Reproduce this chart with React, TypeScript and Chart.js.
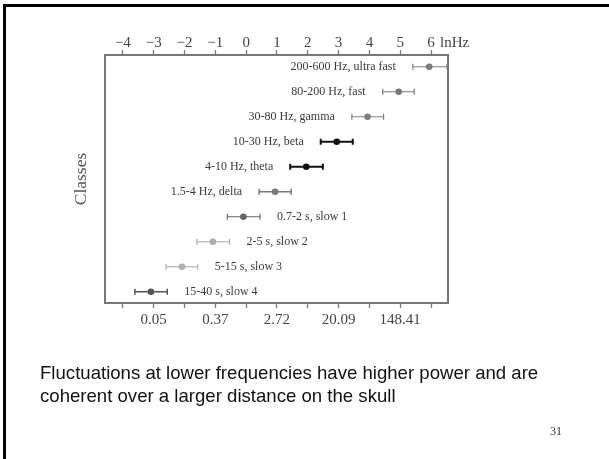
import React, { useEffect, useRef } from "react";
import { Chart, registerables } from "chart.js";

Chart.register(...registerables);

// Frequency classes, top to bottom
const classLabels = [
  "200-600 Hz, ultra fast",
  "80-200 Hz, fast",
  "30-80 Hz, gamma",
  "10-30 Hz, beta",
  "4-10 Hz, theta",
  "1.5-4 Hz, delta",
  "0.7-2 s, slow 1",
  "2-5 s, slow 2",
  "5-15 s, slow 3",
  "15-40 s, slow 4",
];
// Centre frequency and band limits, in ln(Hz)
const centers = [5.94, 4.95, 3.94, 2.94, 1.95, 0.94, -0.09, -1.08, -2.08, -3.09];
const lows = [5.41, 4.43, 3.43, 2.42, 1.43, 0.42, -0.61, -1.6, -2.6, -3.61];
const highs = [6.52, 5.45, 4.46, 3.46, 2.49, 1.46, 0.45, -0.54, -1.57, -2.56];
// Which side of the marker the class name sits on
const labelSide = ["left", "left", "left", "left", "left", "left", "right", "right", "right", "right"];
const markColors = ["#7c7c7c", "#777777", "#7e7e7e", "#111111", "#111111", "#787878", "#666666", "#ababab", "#b2b2b2", "#555555"];
const barWidths = [1.2, 1.2, 1.2, 2, 2, 1.5, 1.2, 1.2, 1.2, 1.5];

// Axis ticks (ln Hz); bottom axis shows e^x on odd ticks
const lnTicks = [-4, -3, -2, -1, 0, 1, 2, 3, 4, 5, 6];
const xMin = -4.58;
const xMax = 6.55;

const SERIF = "'Liberation Serif', 'Times New Roman', serif";

const classLabelPlugin = {
  id: "classLabels",
  afterDatasetsDraw(chart: any) {
    const ctx = chart.ctx;
    const xs = chart.scales.x;
    const ys = chart.scales.y;
    ctx.save();
    ctx.font = `12px ${SERIF}`;
    ctx.fillStyle = "#3a3a3a";
    ctx.textBaseline = "middle";
    classLabels.forEach((name, i) => {
      const y = ys.getPixelForValue(i + 1);
      if (labelSide[i] === "left") {
        ctx.textAlign = "right";
        ctx.fillText(name, xs.getPixelForValue(lows[i]) - 17, y);
      } else {
        ctx.textAlign = "left";
        ctx.fillText(name, xs.getPixelForValue(highs[i]) + 17, y);
      }
    });
    // unit next to the top axis
    const top = chart.scales.xTop;
    ctx.font = `15px ${SERIF}`;
    ctx.fillStyle = "#444";
    ctx.textAlign = "left";
    ctx.fillText("lnHz", top.getPixelForValue(6) + 9, 43);
    ctx.restore();
  },
};

export default function App() {
  const ref = useRef<HTMLCanvasElement>(null);

  useEffect(() => {
    const canvas = ref.current;
    if (!canvas) return;

    const errorSets = classLabels.map((_, i) => ({
      type: "scatter" as const,
      data: [
        { x: lows[i], y: i + 1 },
        { x: highs[i], y: i + 1 },
      ],
      showLine: true,
      borderColor: markColors[i],
      borderWidth: barWidths[i],
      pointStyle: "line" as const,
      rotation: 90,
      pointRadius: 3,
      pointBorderColor: markColors[i],
      pointBorderWidth: barWidths[i],
      pointBackgroundColor: markColors[i],
    }));

    const pointSet = {
      type: "scatter" as const,
      data: centers.map((c, i) => ({ x: c, y: i + 1 })),
      pointRadius: 3.3,
      pointBackgroundColor: markColors,
      pointBorderColor: markColors,
      pointBorderWidth: 0,
    };

    const axisColor = "#777777";
    const chart = new Chart(canvas, {
      type: "scatter",
      data: { datasets: [...errorSets, pointSet] as any },
      options: {
        animation: false,
        responsive: false,
        events: [],
        layout: { padding: { left: 71, right: 161, top: 0, bottom: 0 } },
        plugins: { legend: { display: false }, tooltip: { enabled: false } },
        scales: {
          x: {
            type: "linear",
            position: "bottom",
            min: xMin,
            max: xMax,
            afterBuildTicks: (s: any) => {
              s.ticks = lnTicks.map((v) => ({ value: v }));
            },
            afterFit: (s: any) => {
              s.height = 156;
            },
            ticks: {
              autoSkip: false,
              maxRotation: 0,
              padding: 3,
              color: "#444",
              font: { family: SERIF, size: 15 },
              callback: (v: any) => (Math.abs(v) % 2 === 1 ? Math.exp(v).toFixed(2) : ""),
            },
            grid: { drawOnChartArea: false, drawTicks: true, tickLength: 5, tickColor: axisColor, tickWidth: 1.3 },
            border: { display: true, color: axisColor, width: 2 },
          },
          xTop: {
            type: "linear",
            position: "top",
            min: xMin,
            max: xMax,
            afterBuildTicks: (s: any) => {
              s.ticks = lnTicks.map((v) => ({ value: v }));
            },
            afterFit: (s: any) => {
              s.height = 55;
            },
            ticks: {
              autoSkip: false,
              maxRotation: 0,
              padding: -2,
              color: "#444",
              font: { family: SERIF, size: 15 },
              callback: (v: any) => (v < 0 ? "\u2212" + Math.abs(v) : String(v)),
            },
            grid: { drawOnChartArea: false, drawTicks: true, tickLength: 5, tickColor: axisColor, tickWidth: 1.3 },
            border: { display: true, color: axisColor, width: 2 },
          },
          y: {
            type: "linear",
            position: "left",
            reverse: true,
            min: 0.53,
            max: 10.45,
            afterFit: (s: any) => {
              s.width = 34;
            },
            ticks: { display: false },
            grid: { display: false },
            border: { display: true, color: axisColor, width: 2 },
            title: {
              display: true,
              text: "Classes",
              color: "#555",
              padding: 0,
              font: { family: SERIF, size: 17.5 },
            },
          },
          yRight: {
            type: "linear",
            position: "right",
            reverse: true,
            min: 0.53,
            max: 10.45,
            afterFit: (s: any) => {
              s.width = 0;
            },
            ticks: { display: false },
            grid: { display: false },
            border: { display: true, color: axisColor, width: 2 },
          },
        },
      },
      plugins: [classLabelPlugin],
    });

    return () => chart.destroy();
  }, []);

  return (
    <div style={{ position: "absolute", left: 0, top: 0, width: 609, height: 459, background: "#fff", overflow: "hidden" }}>
      <div
        style={{
          position: "absolute",
          left: 3,
          top: 4,
          width: 606,
          height: 455,
          borderLeft: "3px solid #000",
          borderTop: "3px solid #000",
        }}
      />
      <canvas ref={ref} width={609} height={459} style={{ position: "absolute", left: 0, top: 0 }} />
      <div
        style={{
          position: "absolute",
          left: 40,
          top: 361,
          fontFamily: "'Liberation Sans', Arial, sans-serif",
          fontSize: 18.6,
          lineHeight: "23px",
          color: "#111",
          whiteSpace: "nowrap",
        }}
      >
        Fluctuations at lower frequencies have higher power and are
        <br />
        coherent over a larger distance on the skull
      </div>
      <div
        style={{
          position: "absolute",
          left: 550,
          top: 424,
          fontFamily: SERIF,
          fontSize: 12,
          color: "#333",
        }}
      >
        31
      </div>
    </div>
  );
}
